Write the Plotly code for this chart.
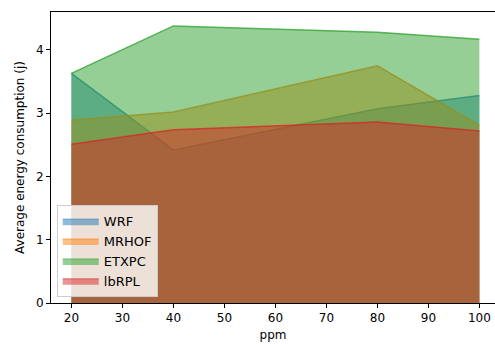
import plotly.graph_objects as go

ppm = [20, 40, 80, 100]
wrf = [3.63, 2.42, 3.07, 3.28]
mrhof = [2.89, 3.02, 3.75, 2.81]
etxpc = [3.63, 4.38, 4.28, 4.17]
lbrpl = [2.51, 2.74, 2.86, 2.72]

series = [
    ("WRF", wrf, (31, 119, 180)),
    ("MRHOF", mrhof, (255, 127, 14)),
    ("ETXPC", etxpc, (44, 160, 44)),
    ("lbRPL", lbrpl, (214, 39, 40)),
]

fig = go.Figure()
for name, vals, (r, g, b) in series:
    fig.add_trace(go.Scatter(
        x=ppm, y=vals, name=name, mode="lines", fill="tozeroy",
        fillcolor=f"rgba({r},{g},{b},0.5)",
        line=dict(color=f"rgba({r},{g},{b},0.75)", width=1.5),
        showlegend=False,
    ))
for name, vals, (r, g, b) in series:
    fig.add_trace(go.Scatter(
        x=[None], y=[None], name=name, mode="lines", fill="toself",
        fillcolor=f"rgba({r},{g},{b},0.5)",
        line=dict(color=f"rgba({r},{g},{b},0.6)", width=1),
        showlegend=True,
    ))

font = dict(family="DejaVu Sans", size=12, color="black")
fig.update_layout(
    width=495, height=344,
    margin=dict(l=51, r=0, t=12, b=41),
    paper_bgcolor="white", plot_bgcolor="white",
    font=font,
    showlegend=True,
    legend=dict(
        x=0.013, y=0.02, xanchor="left", yanchor="bottom",
        bgcolor="rgba(255,255,255,0.8)", bordercolor="#cccccc", borderwidth=1,
        font=dict(family="DejaVu Sans", size=13, color="black"),
        tracegroupgap=0, itemwidth=36,
    ),
    xaxis=dict(
        range=[16, 103.06], tickvals=[20, 30, 40, 50, 60, 70, 80, 90, 100],
        showgrid=False, zeroline=False, showline=True, linecolor="black", linewidth=1,
        mirror=True, ticks="outside", ticklen=4, tickcolor="black",
        title=dict(text="ppm", font=font, standoff=6),
    ),
    yaxis=dict(
        range=[0, 4.6], tickvals=[0, 1, 2, 3, 4],
        showgrid=False, zeroline=False, showline=True, linecolor="black", linewidth=1,
        ticks="outside", ticklen=4, tickcolor="black",
        title=dict(text="Average energy consumption (j)", font=font, standoff=8),
    ),
)

fig.write_html("out.html")
